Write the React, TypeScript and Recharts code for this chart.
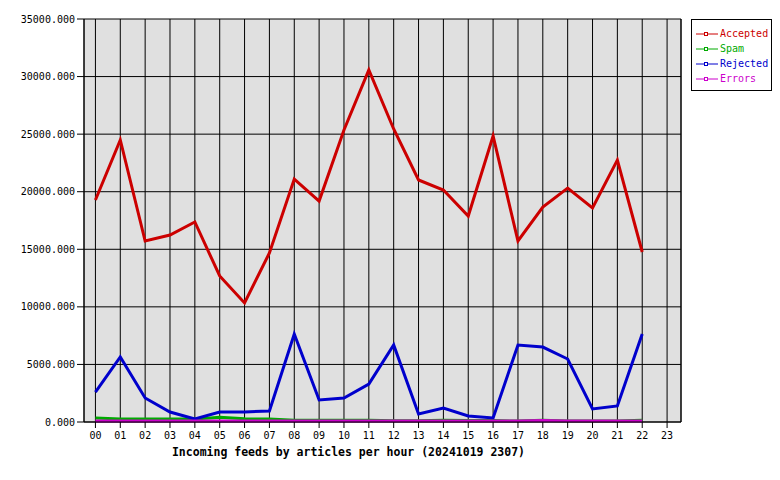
import { LineChart, Line, XAxis, YAxis, CartesianGrid, ReferenceLine, Label } from "recharts";

const hours = [0, 1, 2, 3, 4, 5, 6, 7, 8, 9, 10, 11, 12, 13, 14, 15, 16, 17, 18, 19, 20, 21, 22];
const accepted = [19280, 24490, 15720, 16240, 17370, 12680, 10335, 14680, 21100, 19190, 25360, 30570, 25450, 21020, 20150, 17890, 24840, 15720, 18670, 20320, 18590, 22755, 14765];
const spam = [350, 250, 250, 250, 250, 420, 280, 250, 150, 150, 150, 150, 100, 100, 150, 120, 120, 80, 150, 80, 80, 80, 150];
const rejected = [2600, 5645, 2085, 870, 260, 870, 870, 955, 7640, 1910, 2085, 3300, 6690, 700, 1215, 520, 350, 6690, 6510, 5470, 1130, 1390, 7640];
const errors = [80, 80, 80, 80, 80, 80, 80, 80, 80, 80, 80, 80, 80, 80, 80, 80, 80, 80, 120, 80, 80, 80, 80];

const xTicks = [0, 1, 2, 3, 4, 5, 6, 7, 8, 9, 10, 11, 12, 13, 14, 15, 16, 17, 18, 19, 20, 21, 22, 23];
const yTicks = [0, 5000, 10000, 15000, 20000, 25000, 30000, 35000];

const series = [
    { key: "accepted", name: "Accepted", color: "#cc0000" },
    { key: "spam", name: "Spam", color: "#00aa00" },
    { key: "rejected", name: "Rejected", color: "#0000cc" },
    { key: "errors", name: "Errors", color: "#cc00cc" },
];

const data = hours.map((h, i) => ({
    hour: h,
    accepted: accepted[i],
    spam: spam[i],
    rejected: rejected[i],
    errors: errors[i],
}));

const font = "'DejaVu Sans Mono', monospace";

function LegendBox() {
    return (
        <div style={{
            position: "absolute",
            left: 691,
            top: 19,
            border: "1px solid #000",
            background: "#fff",
            width: 81,
            height: 72,
            boxSizing: "border-box",
            padding: "6px 0 0 4px",
            fontFamily: font,
            fontSize: 10,
        }}>
            {series.map((s) => (
                <div key={s.key} style={{ display: "flex", alignItems: "center", height: 15 }}>
                    <svg width={22} height={6} style={{ marginRight: 2 }}>
                        <line x1={0} y1={3} x2={22} y2={3} stroke={s.color} strokeWidth={1} />
                        <rect x={8.5} y={1.5} width={3} height={3} fill="#fff" stroke={s.color} strokeWidth={1} />
                    </svg>
                    <span style={{ color: s.color }}>{s.name}</span>
                </div>
            ))}
        </div>
    );
}

function App() {
    return (
        <div style={{ position: "absolute", left: 0, top: 0, width: 780, height: 480, background: "#fff" }}>
            <LineChart
                width={780}
                height={480}
                data={data}
                margin={{ top: 19, right: 99, bottom: 28, left: 0 }}
            >
                <CartesianGrid
                    stroke="#000"
                    strokeOpacity={1}
                    fill="#e0e0e0"
                    fillOpacity={1}
                />
                <XAxis
                    dataKey="hour"
                    type="number"
                    domain={[-0.46, 23.56]}
                    ticks={xTicks}
                    interval={0}
                    allowDataOverflow
                    height={30}
                    tickSize={6}
                    stroke="#000"
                    tick={{ fill: "#000", fontFamily: font, fontSize: 10, dy: 2 }}
                    tickFormatter={(v: number) => String(v).padStart(2, "0")}
                >
                    <Label
                        value="Incoming feeds by articles per hour (20241019 2307)"
                        position="insideBottom"
                        offset={-4}
                        dx={-34}
                        style={{ fill: "#000", fontFamily: font, fontSize: 11.5, fontWeight: "bold" }}
                    />
                </XAxis>
                <YAxis
                    type="number"
                    domain={[0, 35000]}
                    ticks={yTicks}
                    interval={0}
                    width={84}
                    tickSize={7}
                    stroke="#000"
                    tick={{ fill: "#000", fontFamily: font, fontSize: 10 }}
                    tickFormatter={(v: number) => v.toFixed(3)}
                />
                <ReferenceLine x={23.56} stroke="#000" strokeWidth={1} />
                {series.map((s) => (
                    <Line
                        key={s.key}
                        type="linear"
                        dataKey={s.key}
                        name={s.name}
                        stroke={s.color}
                        strokeWidth={3}
                        dot={false}
                        isAnimationActive={false}
                    />
                ))}
            </LineChart>
            <LegendBox />
        </div>
    );
}

export default App;
